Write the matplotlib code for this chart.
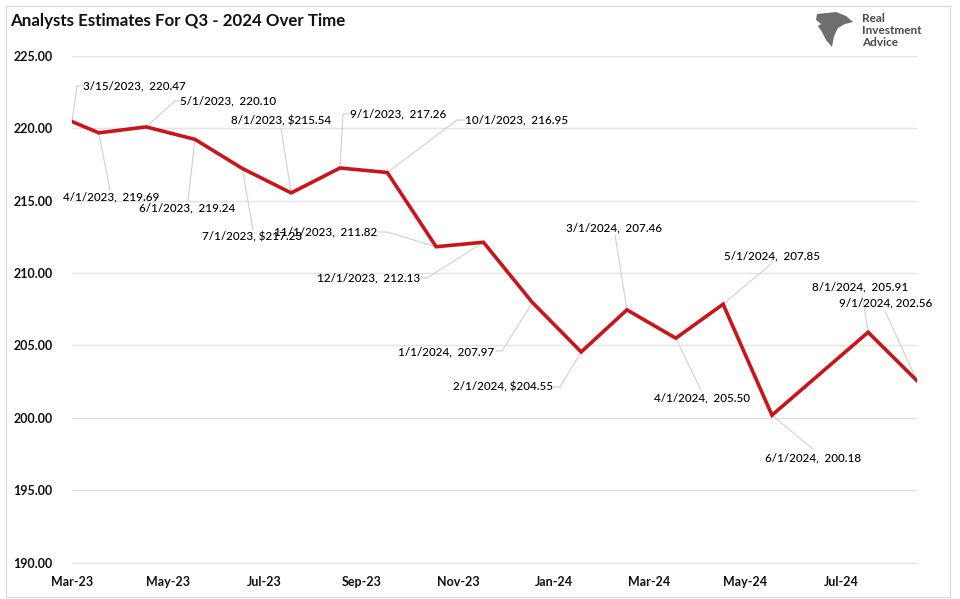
import matplotlib
matplotlib.use("Agg")
import matplotlib.pyplot as plt
import matplotlib.dates as mdates
from matplotlib.patches import Rectangle, Polygon
import pandas as pd

plt.rcParams['font.family'] = ['Lato', 'DejaVu Sans']

# ---- data ----
dates = ["2023-03-15", "2023-04-01", "2023-05-01", "2023-06-01", "2023-07-01",
         "2023-08-01", "2023-09-01", "2023-10-01", "2023-11-01", "2023-12-01",
         "2024-01-01", "2024-02-01", "2024-03-01", "2024-04-01", "2024-05-01",
         "2024-06-01", "2024-08-01", "2024-09-01"]
values = [220.47, 219.69, 220.10, 219.24, 217.23, 215.54, 217.26, 216.95, 211.82,
          212.13, 207.97, 204.55, 207.46, 205.50, 207.85, 200.18, 205.91, 202.56]
label_texts = ["3/15/2023,  220.47", "4/1/2023,  219.69", "5/1/2023,  220.10",
               "6/1/2023,  219.24", "7/1/2023, $217.23", "8/1/2023, $215.54",
               "9/1/2023,  217.26", "10/1/2023,  216.95", "11/1/2023,  211.82",
               "12/1/2023,  212.13", "1/1/2024,  207.97", "2/1/2024, $204.55",
               "3/1/2024,  207.46", "4/1/2024,  205.50", "5/1/2024,  207.85",
               "6/1/2024,  200.18", "8/1/2024,  205.91", "9/1/2024, 202.56"]
x_tick_labels = ["Mar-23", "May-23", "Jul-23", "Sep-23", "Nov-23",
                 "Jan-24", "Mar-24", "May-24", "Jul-24"]
y_ticks = [190, 195, 200, 205, 210, 215, 220, 225]
title = "Analysts Estimates For Q3 - 2024 Over Time"

# ---- layout (figure pixels, y measured from top) ----
label_pos = [(134.5, 86), (111.5, 197), (228, 101), (187.5, 208), (252.5, 237),
             (281, 121), (398.5, 114), (517, 120), (325.5, 232), (369, 278),
             (446.5, 352), (503, 387), (614, 228), (701.5, 398), (771.5, 256),
             (813.5, 458), (860, 287), (885.5, 303)]
# leader: (end of slanted line), optional stub end
leaders = [((77, 86), (84, 86)), ((110, 190), None), ((175, 101), (181, 101)),
           ((188, 201), None), ((253, 230), None), ((281, 128), None),
           ((343, 114), (350, 114)), ((457, 120), (465, 120)),
           ((387, 232), (378, 232)), ((427, 278), (420, 278)),
           ((502, 351), (496, 351)), ((560, 387), (553, 387)),
           ((615, 235), None), ((701, 390), None), ((771, 264), None),
           ((813, 449), None), ((862, 295), None), ((885, 311), None)]

W, H = 960, 599
fig = plt.figure(figsize=(W / 100, H / 100), dpi=100)
fig.patch.set_facecolor('white')
ax = fig.add_axes([72 / W, 1 - 562.5 / H, (917 - 72) / W, (562.5 - 56) / H])

x = pd.to_datetime(dates)
grid_c = '#e4e4e4'
ax.set_ylim(190, 225)
ax.set_xlim(pd.Timestamp("2023-03-15"), pd.Timestamp("2024-09-01"))
ax.set_yticks(y_ticks)
ax.yaxis.set_major_formatter(plt.FuncFormatter(lambda v, p: f"{v:.2f}"))
tick_dates = [pd.to_datetime(s, format="%b-%y") + pd.Timedelta(days=14) for s in x_tick_labels]
ax.set_xticks(tick_dates)
ax.set_xticklabels(x_tick_labels)
ax.grid(axis='y', color=grid_c, lw=1.0)
ax.set_axisbelow(True)
for s in ['top', 'right', 'left']:
    ax.spines[s].set_visible(False)
ax.spines['bottom'].set_color(grid_c)
ax.tick_params(axis='both', length=0, labelsize=9, colors='#111111')
ax.tick_params(axis='y', pad=14)
ax.tick_params(axis='x', pad=10)
for lab in ax.get_xticklabels() + ax.get_yticklabels():
    lab.set_fontweight('bold')

ax.plot(x, values, color='#c8151b', lw=2.6, solid_joinstyle='miter', zorder=3)

lc = '#d0d0d0'
for xi, yi, txt, (cx, cy), (l1, stub) in zip(x, values, label_texts, label_pos, leaders):
    ax.annotate('', xy=(mdates.date2num(xi), yi), xycoords='data',
                xytext=(l1[0], H - l1[1]), textcoords='figure pixels',
                arrowprops=dict(arrowstyle='-', color=lc, lw=0.8, shrinkA=0, shrinkB=0),
                zorder=2)
    if stub is not None:
        ax.annotate('', xy=(l1[0], H - l1[1]), xycoords='figure pixels',
                    xytext=(stub[0], H - stub[1]), textcoords='figure pixels',
                    arrowprops=dict(arrowstyle='-', color=lc, lw=0.8, shrinkA=0, shrinkB=0))
    fig.text(cx / W, 1 - cy / H, txt, ha='center', va='center', fontsize=8.4,
             fontweight='medium', color='#000000', zorder=5)

# title
fig.text(10 / W, 1 - 21 / H, title, ha='left', va='center', fontsize=12.2,
         fontweight='bold', color='#111111')

# logo
for i, word in enumerate(["Real", "Investment", "Advice"]):
    fig.text(862 / W, 1 - (18 + 12 * i) / H, word, ha='left', va='center',
             fontsize=8.5, fontweight='bold', color='#4a4a4a')
eagle = [(817, 14), (836, 12), (846, 16), (853, 22), (845, 24), (838, 28),
         (834, 36), (832, 47), (826, 40), (822, 32), (818, 26), (821, 24), (816, 20)]
fig.patches.append(Polygon([(px / W, 1 - py / H) for px, py in eagle], closed=True,
                           transform=fig.transFigure, facecolor='#6e6e6e',
                           edgecolor='none'))

# outer border
fig.patches.append(Rectangle((5.5 / W, 1 - 596.5 / H), (950 - 5.5) / W, (596.5 - 6) / H,
                             transform=fig.transFigure, fill=False,
                             edgecolor='#d9d9d9', lw=0.8))

fig.savefig("out.png", dpi=100)
